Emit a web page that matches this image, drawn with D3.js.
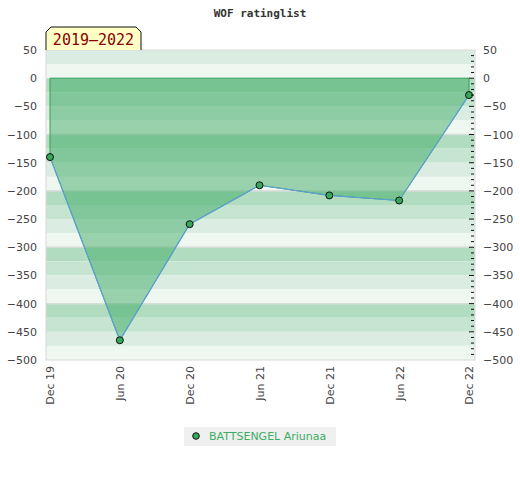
<!DOCTYPE html>
<html lang="en">
  <head>
    <meta charset="UTF-8" />
    <title>WOF ratinglist</title>
    <script src="https://d3js.org/d3.v7.min.js"></script>
    <style>
      body { margin: 0; background: #fff; }
    </style>
  </head>

  <body>
    <div id="graph"></div>
    <script>
      const categories = ['Dec 19', 'Jun 20', 'Dec 20', 'Jun 21', 'Dec 21', 'Jun 22', 'Dec 22']
      const ratingChange = [-140, -465, -259, -190, -208, -217, -30]
      const yTicks = [50, 0, -50, -100, -150, -200, -250, -300, -350, -400, -450, -500]
      const playerName = 'BATTSENGEL Ariunaa'
      const periodLabel = '2019\u20132022'
      const title = 'WOF ratinglist'

      const svg = d3.select('#graph').append('svg').attr('width', 520).attr('height', 480)

      const pLeft = 46, pRight = 475, pTop = 50, pBottom = 360
      const x = d3.scalePoint().domain(categories).range([50, 469])
      const y = d3.scaleLinear().domain([50, -500]).range([pTop, pBottom])

      // 背景条纹, 每 25 一条, 100 一个循环
      const bandColors = ['#b1dcc0', '#c6e5d1', '#dbede2', '#eff7f1']
      const bands = d3.range(100, -500, -25).map((v) => ({ v, c: bandColors[((100 - v) / 25) % 4] }))
      const bg = svg.append('g')
      bg.selectAll('rect')
        .data(bands.filter((d) => d.v > -500 && d.v - 25 < 50))
        .join('rect')
        .attr('x', pLeft)
        .attr('width', pRight - pLeft)
        .attr('y', (d) => y(Math.min(d.v, 50)))
        .attr('height', (d) => y(d.v - 25) - y(Math.min(d.v, 50)))
        .attr('fill', (d) => d.c)
      bg.selectAll('line')
        .data([-100, -200, -300, -400])
        .join('line')
        .attr('x1', pLeft)
        .attr('x2', pRight)
        .attr('y1', (d) => y(d))
        .attr('y2', (d) => y(d))
        .attr('stroke', '#d6dcd8')
        .attr('stroke-width', 1.5)
      bg.append('rect')
        .attr('x', pLeft).attr('y', pTop)
        .attr('width', pRight - pLeft).attr('height', pBottom - pTop)
        .attr('fill', 'none').attr('stroke', '#d8d8d8')

      // 面积 (基线为 0)
      const area = d3.area().x((d, i) => x(categories[i])).y0(y(0)).y1((d) => y(d))
      svg.append('path')
        .datum(ratingChange)
        .attr('d', area)
        .attr('fill', 'rgba(57,168,96,0.48)')
        .attr('stroke', '#2fa356')
        .attr('stroke-width', 1)
      svg.append('path')
        .datum(ratingChange)
        .attr('d', d3.line().x((d, i) => x(categories[i])).y((d) => y(d)))
        .attr('fill', 'none')
        .attr('stroke', '#5fa0d8')
        .attr('stroke-width', 1.2)
      svg.append('g')
        .selectAll('circle')
        .data(ratingChange)
        .join('circle')
        .attr('cx', (d, i) => x(categories[i]))
        .attr('cy', (d) => y(d))
        .attr('r', 3.5)
        .attr('fill', '#35a85c')
        .attr('stroke', '#111')
        .attr('stroke-width', 1)

      // 坐标轴
      const axisFont = (g) => {
        g.select('.domain').remove()
        g.selectAll('text').attr('font-family', 'DejaVu Sans').attr('font-size', 11).attr('fill', '#444')
      }
      svg.append('g')
        .attr('transform', `translate(${pLeft},0)`)
        .call(d3.axisLeft(y).tickValues(yTicks).tickSize(0).tickPadding(9))
        .call(axisFont)
      svg.append('g')
        .attr('transform', `translate(${pRight},0)`)
        .call(d3.axisRight(y).tickValues(yTicks).tickSize(0).tickPadding(8))
        .call(axisFont)
      // 右侧刻度
      svg.append('g')
        .selectAll('line')
        .data(d3.range(40, -500, -10))
        .join('line')
        .attr('x1', (d) => (d % 50 === 0 ? pRight - 6 : pRight - 4))
        .attr('x2', pRight - 1)
        .attr('y1', (d) => y(d))
        .attr('y2', (d) => y(d))
        .attr('stroke', '#111')
        .attr('stroke-width', 1)
      const xAxis = svg.append('g')
        .attr('transform', `translate(0,${pBottom})`)
        .call(d3.axisBottom(x).tickSize(0))
        .call(axisFont)
      xAxis.selectAll('text')
        .attr('transform', 'rotate(-90)')
        .attr('text-anchor', 'end')
        .attr('dy', '0.35em')
        .attr('x', -6)
        .attr('y', 0)

      // 标题
      svg.append('text')
        .attr('x', 260).attr('y', 17)
        .attr('text-anchor', 'middle')
        .attr('font-family', 'DejaVu Sans Mono')
        .attr('font-weight', 'bold')
        .attr('font-size', 11)
        .attr('fill', '#333')
        .text(title)

      // 时间段标签
      const bx = 46, by = 27, bw = 95, bh = 23
      svg.append('path')
        .attr('d', `M${bx},${by + bh} L${bx},${by + 5} L${bx + 5},${by} L${bx + bw - 5},${by} L${bx + bw},${by + 5} L${bx + bw},${by + bh}`)
        .attr('fill', '#ffffc6')
        .attr('stroke', '#111')
        .attr('stroke-width', 1)
      svg.append('text')
        .attr('x', bx + bw / 2).attr('y', by + 18)
        .attr('text-anchor', 'middle')
        .attr('font-family', 'DejaVu Sans Mono')
        .attr('font-size', 15)
        .attr('fill', '#8b0000')
        .text(periodLabel)

      // 图例
      const legend = svg.append('g').attr('transform', 'translate(184,427)')
      legend.append('rect').attr('width', 152).attr('height', 19).attr('fill', '#f0f0f0')
      legend.append('circle').attr('cx', 12).attr('cy', 9).attr('r', 3.3).attr('fill', '#35a85c').attr('stroke', '#111')
      legend.append('text')
        .attr('x', 25).attr('y', 13)
        .attr('font-family', 'DejaVu Sans')
        .attr('font-size', 11)
        .attr('fill', '#3cad62')
        .text(playerName)
    </script>
  </body>
</html>
